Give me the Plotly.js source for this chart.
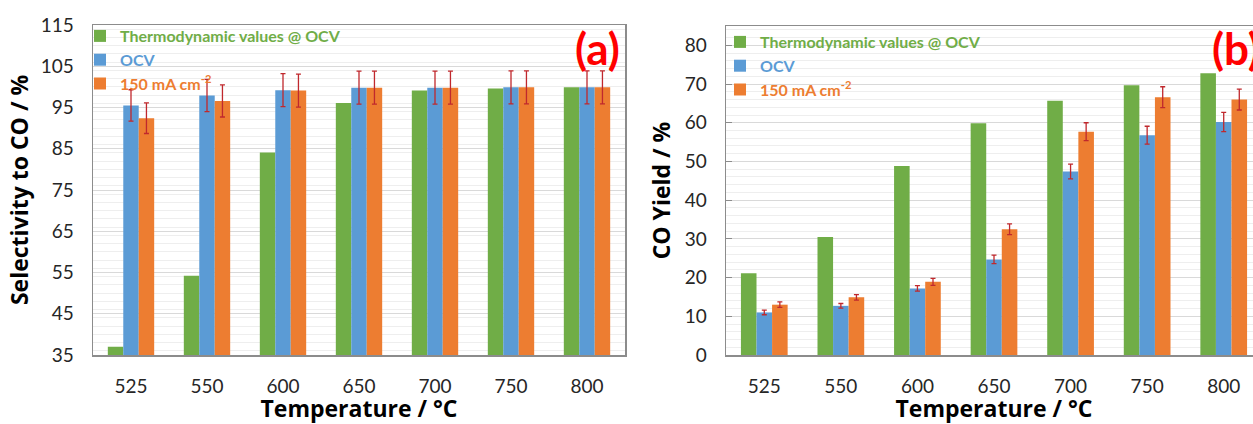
<!DOCTYPE html>
<html>
<head>
<meta charset="utf-8">
<script src="https://cdn.plot.ly/plotly-3.0.1.min.js"></script>
<style>
html, body { margin: 0; padding: 0; background: #fff; overflow: hidden; width: 1253px; height: 424px; }
#chart { width: 1265px; height: 424px; }
</style>
</head>
<body>
<div id="chart"></div>
<script>
// Categories
const temperatures = ['525', '550', '600', '650', '700', '750', '800'];

// Panel (a): Selectivity to CO / %
const selThermo = [37.0, 54.2, 84.1, 96.1, 99.1, 99.6, 99.9];
const selOCV = [95.5, 97.9, 99.2, 99.8, 99.8, 99.9, 99.9];
const selOCVErr = [3.8, 3.9, 4.0, 4.0, 4.0, 4.0, 4.0];
const sel150 = [92.4, 96.6, 99.1, 99.8, 99.8, 99.9, 99.9];
const sel150Err = [3.7, 3.9, 4.0, 4.0, 4.0, 4.0, 4.0];

// Panel (b): CO Yield / %
const yieldThermo = [21.1, 30.5, 48.8, 59.9, 65.7, 69.7, 72.8];
const yieldOCV = [11.0, 12.7, 17.2, 24.7, 47.4, 56.8, 60.2];
const yieldOCVErr = [0.6, 0.6, 0.7, 1.1, 1.9, 2.3, 2.5];
const yield150 = [13.0, 14.9, 18.9, 32.5, 57.7, 66.6, 66.0];
const yield150Err = [0.7, 0.7, 0.9, 1.4, 2.3, 2.7, 2.7];

// Legend labels
const seriesNames = ['Thermodynamic values @ OCV', 'OCV', '150 mA cm<sup>-2</sup>'];
const colors = ['#70AD47', '#5B9BD5', '#ED7D31'];
const errColor = '#C0282D';

const W = 1265, H = 424;
const px = v => v / W;
const py = v => 1 - v / H;

function legName(i) {
  return '<b><span style="color:' + colors[i] + '">' + seriesNames[i] + '</span></b>';
}
function errObj(arr) {
  return { type: 'data', array: arr, visible: true, color: errColor, thickness: 1.3, width: 2.5 };
}

const traces = [
  { type: 'bar', x: temperatures, y: selThermo, name: legName(0), marker: { color: colors[0] }, xaxis: 'x', yaxis: 'y', legend: 'legend' },
  { type: 'bar', x: temperatures, y: selOCV, name: legName(1), marker: { color: colors[1] }, error_y: errObj(selOCVErr), xaxis: 'x', yaxis: 'y', legend: 'legend' },
  { type: 'bar', x: temperatures, y: sel150, name: legName(2), marker: { color: colors[2] }, error_y: errObj(sel150Err), xaxis: 'x', yaxis: 'y', legend: 'legend' },
  { type: 'bar', x: temperatures, y: yieldThermo, name: legName(0), marker: { color: colors[0] }, xaxis: 'x2', yaxis: 'y2', legend: 'legend2' },
  { type: 'bar', x: temperatures, y: yieldOCV, name: legName(1), marker: { color: colors[1] }, error_y: errObj(yieldOCVErr), xaxis: 'x2', yaxis: 'y2', legend: 'legend2' },
  { type: 'bar', x: temperatures, y: yield150, name: legName(2), marker: { color: colors[2] }, error_y: errObj(yield150Err), xaxis: 'x2', yaxis: 'y2', legend: 'legend2' }
];

const fontFam = 'Lato, "Open Sans", sans-serif';
const titleFam = '"Open Sans", Lato, sans-serif';
const tickFont = { family: fontFam, size: 19, color: '#262626' };
const titleFont = { family: titleFam, size: 23, color: '#000000', weight: 'bold' };
const lineCol = '#8C8C8C';

const commonX = {
  type: 'category',
  showline: true, linecolor: lineCol, linewidth: 1.5, mirror: true,
  showgrid: false, zeroline: false,
  ticks: '', tickfont: tickFont, ticklabelstandoff: 14,
  title: { text: '<b>Temperature / °C</b>', font: titleFont, standoff: 3 }
};
const commonY = {
  showline: true, linecolor: lineCol, linewidth: 1.5, mirror: true,
  zeroline: false, showgrid: true, gridcolor: '#D9D9D9', gridwidth: 1,
  tickfont: tickFont, ticklabelstandoff: 14,
  minor: { dtick: 2, showgrid: true, gridcolor: '#EEEEEE', gridwidth: 1 }
};

const layout = {
  width: W, height: H,
  margin: { l: 0, r: 0, t: 0, b: 0 },
  paper_bgcolor: '#ffffff', plot_bgcolor: '#ffffff',
  font: { family: fontFam },
  barmode: 'group', bargap: 0.39, bargroupgap: 0,
  xaxis: Object.assign({}, commonX, { domain: [px(93), px(625)], anchor: 'y' }),
  yaxis: Object.assign({}, commonY, {
    domain: [py(355), py(25)], anchor: 'x', range: [35, 115], tick0: 35, dtick: 10,
    ticks: '',
    title: { text: '<b>Selectivity to CO / %</b>', font: titleFont, standoff: 5 }
  }),
  xaxis2: Object.assign({}, commonX, { domain: [px(726), px(1262)], anchor: 'y2' }),
  yaxis2: Object.assign({}, commonY, {
    domain: [py(355), py(26)], anchor: 'x2', range: [0, 85], tick0: 0, dtick: 10,
    ticks: 'inside', ticklen: 6, tickcolor: lineCol, tickvals: [0, 10, 20, 30, 40, 50, 60, 70, 80],
    title: { text: '<b>CO Yield / %</b>', font: titleFont, standoff: 7 }
  }),
  legend: {
    x: px(80), y: py(19), xanchor: 'left', yanchor: 'top',
    bgcolor: 'rgba(0,0,0,0)', font: { family: fontFam, size: 16 },
    itemwidth: 30, tracegroupgap: 0, itemclick: false
  },
  legend2: {
    x: px(720), y: py(25), xanchor: 'left', yanchor: 'top',
    bgcolor: 'rgba(0,0,0,0)', font: { family: fontFam, size: 16 },
    itemwidth: 30, tracegroupgap: 0, itemclick: false
  },
  annotations: [
    { xref: 'paper', yref: 'paper', x: px(597), y: py(48), xanchor: 'center', yanchor: 'middle',
      text: '<b>(a)</b>', showarrow: false, font: { family: fontFam, size: 44, color: '#FF0000' } },
    { xref: 'paper', yref: 'paper', x: px(1236), y: py(48), xanchor: 'center', yanchor: 'middle',
      text: '<b>(b)</b>', showarrow: false, font: { family: fontFam, size: 44, color: '#FF0000' } }
  ],
  showlegend: true
};

Plotly.newPlot('chart', traces, layout, { staticPlot: true, displayModeBar: false });
</script>
</body>
</html>
